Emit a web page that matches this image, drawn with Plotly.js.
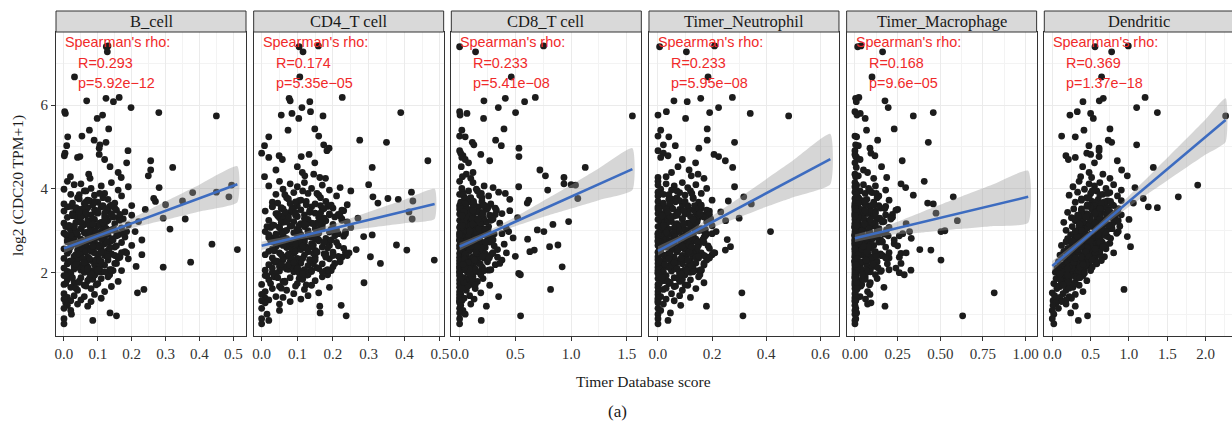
<!DOCTYPE html>
<html><head><meta charset="utf-8">
<script src="https://cdn.plot.ly/plotly-3.0.1.min.js"></script>
<style>html,body{margin:0;padding:0;overflow:hidden;background:#fff}</style>
</head><body><div id="chart" style="width:1235px;height:425px"></div>
<script>
const panels = ['B_cell','CD4_T cell','CD8_T cell','Timer_Neutrophil','Timer_Macrophage','Dendritic'];
const rhoText = ['R=0.293','R=0.174','R=0.233','R=0.233','R=0.168','R=0.369'];
const pText = ['p=5.92e\u221212','p=5.35e\u221205','p=5.41e\u221208','p=5.95e\u221208','p=9.6e\u221205','p=1.37e\u221218'];

// log2(CDC20 TPM+1), one value per sample (shared by all panels)
const cdc20 = [
 7.41, 7.39, 7.27, 6.67,
 6.18, 6.16, 6.10, 6.08, 5.94, 5.84, 5.82, 5.80, 5.76, 5.74, 5.68,
 5.43, 5.40, 5.26, 5.24, 5.16, 5.11, 5.05, 5.03, 4.97,
 4.91, 4.85, 4.82, 4.79, 4.77, 4.75, 4.70, 4.67, 4.62, 4.53, 4.51, 4.45, 4.39, 4.35, 4.31, 4.27, 4.29, 4.25,
 4.18, 4.15, 4.12, 4.10, 4.09, 4.07, 4.05, 4.03, 4.01, 3.99,
 3.97, 3.95, 3.92, 3.91, 3.89, 3.87, 3.85, 3.83, 3.81, 3.79,
 3.77, 3.75, 3.73, 3.71, 3.70, 3.68, 3.66, 3.64, 3.62, 3.60,
 3.58, 3.57, 3.55, 3.54, 3.52, 3.51, 3.50, 3.48, 3.47, 3.45,
 3.44, 3.42, 3.41, 3.40, 3.38, 3.37, 3.35, 3.34, 3.32, 3.31,
 3.30, 3.28, 3.27, 3.25, 3.24, 3.22, 3.21, 3.20, 3.18, 3.17,
 3.15, 3.14, 3.12, 3.11, 3.10, 3.08, 3.07, 3.05, 3.04, 3.02,
 3.01, 3.00, 2.98, 2.97, 2.95, 2.94, 2.92, 2.91, 2.90, 2.88,
 2.87, 2.86, 2.85, 2.84, 2.83, 2.82, 2.81, 2.80, 2.79, 2.78,
 2.77, 2.76, 2.74, 2.73, 2.72, 2.70, 2.69, 2.68, 2.66, 2.65,
 2.64, 2.62, 2.61, 2.60, 2.58, 2.57, 2.55, 2.54, 2.53, 2.51,
 2.50, 2.49, 2.47, 2.46, 2.45, 2.43, 2.42, 2.41, 2.39, 2.38,
 2.37, 2.35, 2.34, 2.33, 2.31, 2.30, 2.29, 2.27, 2.26, 2.25,
 2.23, 2.22, 2.21, 2.19, 2.18, 2.17, 2.15, 2.14, 2.13, 2.11,
 2.10, 2.09, 2.07, 2.06, 2.05, 2.04, 2.03, 2.02, 2.01, 2.00,
 1.98, 1.95, 1.93, 1.90, 1.88, 1.86, 1.83, 1.81, 1.79, 1.76,
 1.74, 1.72, 1.70, 1.67, 1.65, 1.62, 1.60, 1.58, 1.55, 1.52,
 1.50, 1.48, 1.45, 1.43, 1.41, 1.39, 1.37, 1.35, 1.33, 1.31,
 1.28, 1.25, 1.22, 1.20, 1.15, 1.10, 1.04, 1.01, 0.97, 0.90, 0.86, 0.78,
 3.86, 3.62, 3.41, 3.18, 2.96, 2.74, 2.52, 2.31, 2.08, 1.86,
 3.79, 3.55, 3.33, 3.12, 2.89, 2.67, 2.45, 2.24, 2.02, 1.80,
 3.72, 3.49, 3.27, 3.05, 2.83, 2.61, 2.39, 2.17, 1.95, 1.74,
 3.66, 3.44, 3.22, 2.99, 2.78, 2.56, 2.34, 2.12, 1.90, 1.68,
 3.58, 3.37, 3.15, 2.93, 2.71, 2.49, 2.27, 2.05, 1.84, 1.63,
 3.52, 3.30, 3.08, 2.86, 2.64, 2.43, 2.21, 1.99, 1.77, 3.95,
 3.46, 3.24, 3.02, 2.80, 2.58, 2.37, 2.15, 1.93, 1.71, 3.89,
 3.39, 3.17, 2.95, 2.73, 2.51, 2.29, 2.07, 1.88, 3.76, 3.60,
 3.35, 3.13, 2.91, 2.69, 2.47, 2.26, 2.04, 3.69, 3.53, 3.28,
 3.10, 2.88, 2.66, 2.44, 2.22, 2.00, 3.43, 3.20, 2.98, 2.76,
 3.65, 3.38, 3.09, 2.81, 2.55, 2.28, 2.02, 3.48, 3.21, 2.93,
 2.65, 2.37, 2.11, 3.57, 3.29, 3.01, 2.72, 2.46, 2.19, 1.94,
 3.42, 3.13, 2.86, 2.59, 2.33, 2.06, 3.53, 3.25, 2.97, 2.69,
 2.41, 2.15, 1.97, 3.33, 3.05, 2.77, 2.50, 2.24, 3.61, 3.16,
 2.89, 2.62, 2.35, 2.09, 3.45, 3.19, 2.91, 2.63, 2.39, 2.13,
 3.70, 3.36, 3.03, 2.75, 2.48, 2.20, 3.27, 2.99, 2.57, 2.30
];

const bCell = [
 0.130, 0.125, 0.128, 0.031,
 0.163, 0.124, 0.067, 0.146, 0.198, 0.002, 0.280, 0.004, 0.114, 0.450, 0.098,
 0.132, 0.075, 0.053, 0.011, 0.089, 0.124, 0.106, 0.008, 0.104,
 0.189, 0.003, 0.104, 0.001, 0.047, 0.040, 0.120, 0.256, 0.185, 0.136, 0.321, 0.256, 0.160, 0.073, 0.249, 0.169, 0.019, 0.077,
 0.010, 0.140, 0.050, 0.030, 0.495, 0.110, 0.190, 0.281, 0.080, 0.000,
 0.160, 0.060, 0.450, 0.380, 0.120, 0.020, 0.090, 0.170, 0.487, 0.040,
 0.265, 0.130, 0.070, 0.350, 0.270, 0.100, 0.150, 0.000, 0.300, 0.200,
 0.020, 0.110, 0.070, 0.150, 0.040, 0.240, 0.090, 0.130, 0.000, 0.180,
 0.060, 0.100, 0.030, 0.140, 0.080, 0.200, 0.120, 0.050, 0.010, 0.160,
 0.293, 0.358, 0.090, 0.130, 0.070, 0.220, 0.040, 0.110, 0.000, 0.150,
 0.060, 0.190, 0.100, 0.030, 0.120, 0.080, 0.170, 0.050, 0.313, 0.140,
 0.020, 0.090, 0.210, 0.110, 0.060, 0.000, 0.130, 0.040, 0.160, 0.080,
 0.100, 0.010, 0.180, 0.070, 0.120, 0.030, 0.140, 0.050, 0.090, 0.230,
 0.050, 0.140, 0.010, 0.090, 0.170, 0.030, 0.120, 0.437, 0.060, 0.200,
 0.100, 0.020, 0.150, 0.070, 0.110, 0.000, 0.512, 0.040, 0.130, 0.080,
 0.180, 0.060, 0.090, 0.010, 0.140, 0.230, 0.050, 0.120, 0.030, 0.160,
 0.070, 0.100, 0.000, 0.190, 0.040, 0.130, 0.080, 0.020, 0.110, 0.374,
 0.060, 0.150, 0.010, 0.090, 0.120, 0.040, 0.213, 0.070, 0.293, 0.000,
 0.100, 0.030, 0.140, 0.050, 0.170, 0.080, 0.010, 0.110, 0.060, 0.020,
 0.020, 0.090, 0.000, 0.130, 0.050, 0.110, 0.010, 0.070, 0.160, 0.030,
 0.100, 0.000, 0.060, 0.140, 0.020, 0.080, 0.236, 0.040, 0.120, 0.217,
 0.000, 0.090, 0.030, 0.060, 0.010, 0.110, 0.000, 0.050, 0.020, 0.080,
 0.005, 0.040, 0.010, 0.070, 0.000, 0.020, 0.136, 0.022, 0.155, 0.000, 0.085, 0.000,
 0.045, 0.085, 0.025, 0.105, 0.065, 0.135, 0.015, 0.095, 0.055, 0.075,
 0.115, 0.035, 0.145, 0.055, 0.095, 0.025, 0.125, 0.065, 0.105, 0.045,
 0.075, 0.155, 0.045, 0.115, 0.015, 0.085, 0.165, 0.035, 0.135, 0.005,
 0.025, 0.095, 0.125, 0.035, 0.145, 0.055, 0.075, 0.105, 0.015, 0.065,
 0.135, 0.065, 0.085, 0.175, 0.045, 0.115, 0.025, 0.145, 0.085, 0.035,
 0.055, 0.125, 0.015, 0.095, 0.155, 0.035, 0.105, 0.075, 0.045, 0.065,
 0.095, 0.045, 0.145, 0.025, 0.085, 0.165, 0.055, 0.005, 0.095, 0.105,
 0.165, 0.105, 0.035, 0.125, 0.065, 0.095, 0.135, 0.025, 0.045, 0.115,
 0.035, 0.075, 0.115, 0.055, 0.185, 0.015, 0.085, 0.065, 0.125, 0.175,
 0.005, 0.155, 0.105, 0.045, 0.155, 0.095, 0.065, 0.035, 0.185, 0.075,
 0.060, 0.140, 0.030, 0.110, 0.080, 0.020, 0.120, 0.100, 0.050, 0.160,
 0.040, 0.130, 0.070, 0.010, 0.085, 0.150, 0.025, 0.105, 0.045, 0.090,
 0.120, 0.015, 0.075, 0.135, 0.055, 0.100, 0.035, 0.165, 0.095, 0.065,
 0.150, 0.030, 0.080, 0.050, 0.125, 0.010, 0.110, 0.060, 0.140, 0.085,
 0.020, 0.100, 0.160, 0.070, 0.045, 0.115, 0.005, 0.085, 0.130, 0.040,
 0.090, 0.025, 0.145, 0.055, 0.170, 0.035, 0.120, 0.075, 0.015, 0.105
];

const cd4T = [
 0.159, 0.105, 0.116, 0.107,
 0.226, 0.077, 0.080, 0.135, 0.113, 0.137, 0.390, 0.085, 0.055, 0.172, 0.104,
 0.149, 0.074, 0.160, 0.020, 0.275, 0.350, 0.174, 0.008, 0.189,
 0.183, 0.000, 0.133, 0.049, 0.111, 0.020, 0.058, 0.466, 0.149, 0.100, 0.310, 0.040, 0.114, 0.146, 0.121, 0.163, 0.008, 0.179,
 0.050, 0.120, 0.080, 0.300, 0.170, 0.020, 0.100, 0.220, 0.140, 0.060,
 0.190, 0.250, 0.420, 0.090, 0.130, 0.040, 0.160, 0.210, 0.312, 0.070,
 0.354, 0.383, 0.110, 0.424, 0.180, 0.030, 0.326, 0.150, 0.240, 0.100,
 0.030, 0.140, 0.090, 0.200, 0.060, 0.170, 0.110, 0.230, 0.010, 0.413,
 0.080, 0.150, 0.040, 0.190, 0.120, 0.070, 0.220, 0.100, 0.160, 0.050,
 0.270, 0.422, 0.130, 0.020, 0.180, 0.090, 0.240, 0.060, 0.140, 0.110,
 0.200, 0.030, 0.170, 0.080, 0.120, 0.250, 0.050, 0.150, 0.100, 0.210,
 0.070, 0.130, 0.010, 0.190, 0.090, 0.160, 0.040, 0.110, 0.310, 0.060,
 0.230, 0.286, 0.140, 0.020, 0.100, 0.180, 0.070, 0.120, 0.050, 0.160,
 0.090, 0.160, 0.030, 0.120, 0.210, 0.060, 0.140, 0.080, 0.378, 0.190,
 0.110, 0.040, 0.170, 0.070, 0.230, 0.100, 0.265, 0.407, 0.150, 0.020,
 0.130, 0.200, 0.050, 0.090, 0.180, 0.010, 0.120, 0.240, 0.070, 0.305,
 0.150, 0.030, 0.100, 0.190, 0.060, 0.484, 0.140, 0.080, 0.220, 0.040,
 0.110, 0.333, 0.170, 0.020, 0.090, 0.130, 0.060, 0.200, 0.100, 0.030,
 0.160, 0.070, 0.120, 0.010, 0.180, 0.050, 0.140, 0.090, 0.030, 0.110,
 0.040, 0.130, 0.010, 0.170, 0.080, 0.110, 0.020, 0.150, 0.060, 0.287,
 0.100, 0.000, 0.140, 0.050, 0.190, 0.030, 0.120, 0.070, 0.010, 0.160,
 0.090, 0.000, 0.130, 0.040, 0.060, 0.010, 0.110, 0.020, 0.000, 0.080,
 0.010, 0.050, 0.223, 0.163, 0.000, 0.050, 0.164, 0.015, 0.237, 0.000, 0.020, 0.000,
 0.065, 0.125, 0.045, 0.155, 0.095, 0.185, 0.035, 0.135, 0.075, 0.105,
 0.165, 0.055, 0.205, 0.085, 0.145, 0.045, 0.175, 0.095, 0.135, 0.065,
 0.105, 0.225, 0.075, 0.165, 0.035, 0.125, 0.215, 0.055, 0.185, 0.025,
 0.045, 0.135, 0.175, 0.065, 0.195, 0.085, 0.115, 0.155, 0.035, 0.095,
 0.185, 0.095, 0.125, 0.235, 0.065, 0.155, 0.045, 0.195, 0.115, 0.055,
 0.085, 0.175, 0.025, 0.135, 0.215, 0.055, 0.145, 0.105, 0.065, 0.115,
 0.135, 0.065, 0.195, 0.045, 0.125, 0.225, 0.085, 0.015, 0.125, 0.155,
 0.215, 0.145, 0.055, 0.175, 0.095, 0.135, 0.185, 0.045, 0.075, 0.165,
 0.055, 0.105, 0.155, 0.085, 0.245, 0.035, 0.115, 0.095, 0.175, 0.225,
 0.015, 0.205, 0.145, 0.075, 0.205, 0.125, 0.095, 0.055, 0.235, 0.105,
 0.080, 0.190, 0.050, 0.150, 0.110, 0.040, 0.170, 0.135, 0.070, 0.215,
 0.060, 0.180, 0.100, 0.030, 0.120, 0.205, 0.045, 0.145, 0.075, 0.125,
 0.165, 0.035, 0.105, 0.185, 0.085, 0.140, 0.055, 0.225, 0.130, 0.095,
 0.200, 0.050, 0.115, 0.075, 0.170, 0.025, 0.155, 0.090, 0.195, 0.120,
 0.040, 0.140, 0.220, 0.100, 0.065, 0.160, 0.020, 0.115, 0.180, 0.060,
 0.125, 0.045, 0.195, 0.080, 0.235, 0.055, 0.165, 0.105, 0.030, 0.150
];

const cd8T = [
 0.753, 0.000, 0.143, 0.463,
 0.679, 0.410, 0.218, 0.583, 0.347, 0.000, 0.502, 0.066, 0.004, 1.550, 0.215,
 0.398, 0.020, 0.000, 0.050, 0.323, 0.114, 0.128, 0.374, 0.532,
 0.000, 0.010, 0.190, 0.030, 0.532, 0.020, 0.050, 0.270, 0.080, 0.015, 1.127, 0.720, 0.120, 0.060, 0.770, 0.936, 0.025, 0.100,
 0.000, 0.120, 0.936, 1.000, 1.040, 0.220, 0.530, 0.300, 0.020, 0.150,
 0.790, 0.080, 0.350, 0.030, 0.410, 0.000, 0.180, 0.260, 0.040, 0.100,
 1.060, 0.450, 0.620, 0.060, 0.200, 0.010, 0.607, 0.280, 0.130, 0.000,
 0.010, 0.170, 0.060, 0.320, 0.000, 0.240, 0.100, 0.450, 0.030, 0.140,
 0.200, 0.050, 0.380, 0.000, 0.120, 0.270, 0.080, 0.020, 0.190, 0.520,
 0.040, 0.150, 0.290, 0.000, 0.090, 0.978, 0.220, 0.060, 0.360, 0.110,
 0.837, 0.010, 0.180, 0.070, 0.260, 0.000, 0.130, 0.420, 0.050, 0.697,
 0.160, 0.030, 0.756, 0.230, 0.000, 0.100, 0.310, 0.070, 0.200, 0.020,
 0.140, 0.000, 0.250, 0.060, 0.480, 0.110, 0.040, 0.610, 0.180, 0.000,
 0.000, 0.130, 0.050, 0.270, 0.020, 0.190, 0.090, 0.400, 0.882, 0.000,
 0.160, 0.807, 0.040, 0.230, 0.000, 0.110, 0.340, 0.670, 0.070, 0.210,
 0.630, 0.010, 0.150, 0.000, 0.290, 0.060, 0.180, 0.030, 0.500, 0.120,
 0.000, 0.220, 0.080, 0.140, 0.020, 0.380, 0.000, 0.100, 0.250, 0.050,
 0.170, 0.000, 0.090, 0.320, 0.030, 0.120, 0.000, 0.920, 0.200, 0.060,
 0.000, 0.140, 0.040, 0.260, 0.010, 0.100, 0.000, 0.180, 0.070, 0.000,
 0.530, 0.545, 0.000, 0.120, 0.040, 0.210, 0.000, 0.080, 0.160, 0.020,
 0.000, 0.100, 0.270, 0.030, 0.000, 0.140, 0.816, 0.060, 0.000, 0.190,
 0.010, 0.000, 0.090, 0.350, 0.000, 0.040, 0.130, 0.000, 0.020, 0.000,
 0.000, 0.100, 0.010, 0.240, 0.000, 0.030, 0.000, 0.050, 0.547, 0.000, 0.194, 0.000,
 0.030, 0.120, 0.010, 0.180, 0.070, 0.250, 0.020, 0.150, 0.050, 0.090,
 0.200, 0.040, 0.290, 0.080, 0.160, 0.015, 0.230, 0.100, 0.130, 0.005,
 0.110, 0.330, 0.060, 0.210, 0.025, 0.140, 0.270, 0.045, 0.190, 0.010,
 0.015, 0.170, 0.240, 0.035, 0.300, 0.095, 0.125, 0.205, 0.005, 0.075,
 0.260, 0.085, 0.145, 0.380, 0.040, 0.175, 0.030, 0.220, 0.115, 0.020,
 0.065, 0.215, 0.010, 0.135, 0.310, 0.050, 0.185, 0.105, 0.035, 0.160,
 0.155, 0.045, 0.255, 0.020, 0.120, 0.340, 0.070, 0.005, 0.140, 0.195,
 0.320, 0.190, 0.030, 0.230, 0.085, 0.150, 0.280, 0.015, 0.055, 0.210,
 0.040, 0.100, 0.200, 0.060, 0.420, 0.010, 0.135, 0.080, 0.250, 0.300,
 0.005, 0.280, 0.175, 0.050, 0.360, 0.125, 0.090, 0.025, 0.440, 0.110,
 0.050, 0.200, 0.020, 0.140, 0.090, 0.010, 0.170, 0.120, 0.040, 0.250,
 0.030, 0.180, 0.070, 0.005, 0.110, 0.230, 0.015, 0.160, 0.060, 0.100,
 0.210, 0.025, 0.080, 0.190, 0.045, 0.130, 0.010, 0.280, 0.150, 0.065,
 0.240, 0.035, 0.095, 0.055, 0.175, 0.005, 0.145, 0.075, 0.220, 0.115,
 0.015, 0.155, 0.265, 0.085, 0.040, 0.185, 0.000, 0.105, 0.205, 0.045,
 0.125, 0.020, 0.230, 0.060, 0.300, 0.030, 0.165, 0.090, 0.010, 0.135
];

const neutrophil = [
 0.209, 0.006, 0.105, 0.185,
 0.275, 0.158, 0.059, 0.108, 0.224, 0.031, 0.191, 0.341, 0.000, 0.483, 0.102,
 0.182, 0.010, 0.000, 0.040, 0.182, 0.283, 0.020, 0.064, 0.151,
 0.000, 0.020, 0.207, 0.037, 0.224, 0.010, 0.090, 0.249, 0.139, 0.074, 0.276, 0.115, 0.050, 0.148, 0.123, 0.000, 0.030, 0.170,
 0.000, 0.090, 0.030, 0.140, 0.000, 0.060, 0.283, 0.110, 0.180, 0.010,
 0.050, 0.120, 0.000, 0.080, 0.160, 0.020, 0.100, 0.000, 0.317, 0.070,
 0.130, 0.040, 0.200, 0.260, 0.000, 0.150, 0.090, 0.345, 0.020, 0.110,
 0.010, 0.110, 0.050, 0.160, 0.000, 0.080, 0.130, 0.030, 0.190, 0.232,
 0.070, 0.140, 0.000, 0.100, 0.040, 0.170, 0.060, 0.120, 0.020, 0.150,
 0.300, 0.090, 0.000, 0.130, 0.250, 0.050, 0.180, 0.010, 0.110, 0.070,
 0.140, 0.030, 0.200, 0.080, 0.000, 0.120, 0.060, 0.160, 0.040, 0.100,
 0.020, 0.150, 0.416, 0.070, 0.110, 0.000, 0.180, 0.050, 0.130, 0.090,
 0.030, 0.120, 0.000, 0.170, 0.060, 0.100, 0.010, 0.140, 0.256, 0.080,
 0.040, 0.130, 0.000, 0.090, 0.170, 0.020, 0.110, 0.060, 0.150, 0.000,
 0.080, 0.268, 0.030, 0.120, 0.190, 0.050, 0.100, 0.249, 0.010, 0.140,
 0.070, 0.000, 0.160, 0.040, 0.110, 0.200, 0.020, 0.090, 0.130, 0.000,
 0.060, 0.150, 0.030, 0.100, 0.000, 0.180, 0.080, 0.120, 0.010, 0.050,
 0.140, 0.000, 0.090, 0.060, 0.170, 0.020, 0.110, 0.040, 0.000, 0.130,
 0.070, 0.010, 0.100, 0.000, 0.150, 0.050, 0.080, 0.020, 0.120, 0.000,
 0.000, 0.100, 0.030, 0.150, 0.060, 0.000, 0.120, 0.020, 0.080, 0.170,
 0.040, 0.000, 0.110, 0.060, 0.000, 0.140, 0.020, 0.090, 0.000, 0.310,
 0.050, 0.000, 0.080, 0.010, 0.120, 0.000, 0.030, 0.000, 0.060, 0.000,
 0.000, 0.020, 0.084, 0.179, 0.000, 0.010, 0.046, 0.000, 0.314, 0.000, 0.037, 0.000,
 0.040, 0.090, 0.015, 0.120, 0.060, 0.150, 0.010, 0.100, 0.050, 0.075,
 0.130, 0.030, 0.170, 0.065, 0.110, 0.020, 0.140, 0.070, 0.115, 0.035,
 0.080, 0.180, 0.045, 0.135, 0.010, 0.095, 0.175, 0.030, 0.155, 0.005,
 0.020, 0.105, 0.145, 0.030, 0.165, 0.055, 0.085, 0.125, 0.010, 0.065,
 0.155, 0.070, 0.095, 0.200, 0.040, 0.130, 0.020, 0.160, 0.090, 0.030,
 0.055, 0.140, 0.010, 0.105, 0.185, 0.035, 0.120, 0.080, 0.045, 0.070,
 0.110, 0.045, 0.165, 0.020, 0.095, 0.190, 0.060, 0.005, 0.100, 0.125,
 0.190, 0.120, 0.030, 0.145, 0.070, 0.110, 0.160, 0.015, 0.050, 0.135,
 0.030, 0.080, 0.130, 0.055, 0.210, 0.010, 0.095, 0.065, 0.150, 0.195,
 0.005, 0.175, 0.115, 0.045, 0.170, 0.100, 0.075, 0.025, 0.215, 0.085,
 0.045, 0.150, 0.015, 0.115, 0.075, 0.005, 0.130, 0.095, 0.035, 0.175,
 0.025, 0.140, 0.060, 0.000, 0.090, 0.165, 0.010, 0.120, 0.050, 0.080,
 0.155, 0.020, 0.065, 0.145, 0.040, 0.105, 0.005, 0.185, 0.110, 0.055,
 0.170, 0.030, 0.085, 0.045, 0.135, 0.000, 0.115, 0.060, 0.160, 0.095,
 0.010, 0.125, 0.190, 0.070, 0.035, 0.140, 0.000, 0.090, 0.150, 0.040,
 0.100, 0.015, 0.175, 0.050, 0.205, 0.025, 0.130, 0.080, 0.005, 0.110
];

const macrophage = [
 0.035, 0.016, 0.162, 0.100,
 0.023, 0.004, 0.176, 0.008, 0.195, 0.000, 0.459, 0.031, 0.012, 0.342, 0.060,
 0.230, 0.068, 0.000, 0.010, 0.133, 0.430, 0.004, 0.020, 0.088,
 0.000, 0.094, 0.000, 0.117, 0.004, 0.010, 0.030, 0.277, 0.000, 0.156, 0.008, 0.050, 0.074, 0.000, 0.020, 0.186, 0.004, 0.110,
 0.406, 0.000, 0.270, 0.050, 0.010, 0.120, 0.000, 0.297, 0.080, 0.005,
 0.180, 0.030, 0.000, 0.100, 0.060, 0.010, 0.342, 0.140, 0.576, 0.020,
 0.000, 0.070, 0.200, 0.005, 0.040, 0.110, 0.426, 0.459, 0.000, 0.090,
 0.000, 0.090, 0.020, 0.150, 0.005, 0.250, 0.050, 0.000, 0.120, 0.030,
 0.010, 0.475, 0.070, 0.000, 0.180, 0.010, 0.100, 0.000, 0.220, 0.040,
 0.005, 0.130, 0.000, 0.060, 0.600, 0.010, 0.160, 0.020, 0.000, 0.300,
 0.080, 0.000, 0.110, 0.030, 0.005, 0.200, 0.000, 0.050, 0.140, 0.010,
 0.010, 0.527, 0.504, 0.000, 0.090, 0.005, 0.170, 0.040, 0.000, 0.260,
 0.000, 0.060, 0.120, 0.010, 0.020, 0.330, 0.000, 0.100, 0.005, 0.150,
 0.000, 0.070, 0.010, 0.140, 0.020, 0.000, 0.230, 0.050, 0.005, 0.110,
 0.000, 0.030, 0.180, 0.010, 0.090, 0.000, 0.380, 0.445, 0.010, 0.000,
 0.120, 0.005, 0.060, 0.270, 0.000, 0.040, 0.010, 0.160, 0.000, 0.080,
 0.000, 0.200, 0.010, 0.005, 0.100, 0.504, 0.000, 0.050, 0.130, 0.010,
 0.030, 0.000, 0.190, 0.005, 0.070, 0.000, 0.110, 0.010, 0.020, 0.240,
 0.000, 0.090, 0.005, 0.328, 0.040, 0.000, 0.150, 0.010, 0.010, 0.260,
 0.000, 0.289, 0.005, 0.060, 0.000, 0.130, 0.010, 0.020, 0.000, 0.090,
 0.005, 0.040, 0.000, 0.010, 0.170, 0.000, 0.010, 0.005, 0.074, 0.816,
 0.000, 0.088, 0.005, 0.030, 0.000, 0.010, 0.062, 0.000, 0.005, 0.000,
 0.094, 0.074, 0.000, 0.176, 0.005, 0.000, 0.010, 0.000, 0.631, 0.005, 0.000, 0.000,
 0.010, 0.060, 0.000, 0.110, 0.030, 0.160, 0.005, 0.085, 0.020, 0.045,
 0.130, 0.015, 0.210, 0.050, 0.095, 0.000, 0.150, 0.040, 0.070, 0.010,
 0.050, 0.240, 0.020, 0.140, 0.005, 0.080, 0.190, 0.025, 0.120, 0.000,
 0.000, 0.100, 0.170, 0.015, 0.230, 0.045, 0.065, 0.135, 0.005, 0.035,
 0.180, 0.040, 0.075, 0.280, 0.010, 0.115, 0.000, 0.155, 0.060, 0.015,
 0.025, 0.145, 0.000, 0.080, 0.250, 0.020, 0.105, 0.055, 0.010, 0.090,
 0.090, 0.015, 0.185, 0.005, 0.065, 0.260, 0.030, 0.000, 0.085, 0.125,
 0.220, 0.120, 0.010, 0.160, 0.040, 0.075, 0.200, 0.000, 0.025, 0.140,
 0.015, 0.050, 0.125, 0.030, 0.300, 0.000, 0.070, 0.035, 0.175, 0.210,
 0.000, 0.195, 0.090, 0.020, 0.270, 0.065, 0.045, 0.010, 0.320, 0.055,
 0.020, 0.110, 0.000, 0.070, 0.040, 0.000, 0.090, 0.060, 0.010, 0.140,
 0.005, 0.100, 0.030, 0.000, 0.050, 0.130, 0.000, 0.075, 0.020, 0.045,
 0.120, 0.010, 0.035, 0.095, 0.015, 0.065, 0.000, 0.160, 0.080, 0.025,
 0.150, 0.005, 0.045, 0.020, 0.085, 0.000, 0.070, 0.030, 0.110, 0.055,
 0.000, 0.080, 0.180, 0.035, 0.010, 0.100, 0.000, 0.050, 0.125, 0.015,
 0.060, 0.000, 0.140, 0.025, 0.200, 0.005, 0.090, 0.040, 0.000, 0.065
];

const dendritic = [
 0.991, 0.557, 0.774, 0.643,
 1.210, 0.665, 0.613, 0.400, 1.100, 0.326, 1.370, 0.500, 0.230, 2.260, 0.535,
 0.752, 0.413, 0.122, 0.300, 0.730, 0.774, 1.100, 0.478, 0.610,
 0.610, 0.450, 0.500, 0.178, 0.610, 0.300, 0.210, 0.848, 0.550, 0.396, 1.317, 0.904, 0.480, 0.660, 0.978, 0.513, 0.370, 0.752,
 0.350, 0.620, 0.480, 0.800, 1.896, 0.550, 0.270, 1.078, 0.700, 0.420,
 0.900, 0.580, 0.330, 0.750, 0.500, 0.660, 0.220, 0.850, 1.643, 0.450,
 1.187, 0.600, 0.380, 0.720, 0.520, 0.300, 1.057, 0.640, 0.460, 0.800,
 0.450, 1.252, 1.370, 0.600, 0.280, 0.730, 0.520, 0.380, 0.850, 0.640,
 0.200, 0.560, 0.700, 0.420, 0.900, 0.330, 0.620, 0.480, 0.760, 0.250,
 0.580, 0.400, 1.000, 0.680, 0.300, 0.820, 0.500, 0.150, 0.600, 0.440,
 0.720, 0.350, 0.550, 0.880, 0.260, 0.640, 0.460, 0.780, 0.380, 0.560,
 0.180, 0.700, 0.420, 0.600, 0.320, 0.840, 0.500, 0.240, 0.660, 0.400,
 0.540, 0.978, 0.300, 0.620, 0.460, 0.760, 0.200, 0.580, 0.360, 0.500,
 0.300, 0.520, 0.180, 0.650, 0.400, 0.750, 0.250, 0.560, 0.450, 0.120,
 0.620, 1.020, 0.350, 0.480, 0.200, 0.700, 0.420, 0.280, 0.580, 0.150,
 0.500, 0.330, 0.800, 0.220, 0.600, 0.400, 0.100, 0.540, 0.300, 0.680,
 0.250, 0.460, 0.150, 0.560, 0.380, 0.200, 0.640, 0.320, 0.080, 0.480,
 0.400, 0.180, 0.580, 0.280, 0.120, 0.460, 0.340, 0.220, 0.520, 0.060,
 0.300, 0.420, 0.160, 0.260, 0.500, 0.100, 0.360, 0.200, 0.040, 0.320,
 0.080, 0.250, 0.400, 0.150, 0.320, 0.050, 0.220, 0.450, 0.120, 0.300,
 0.020, 0.200, 0.350, 0.100, 0.270, 0.060, 0.935, 0.180, 0.400, 0.000,
 0.140, 0.300, 0.030, 0.220, 0.100, 0.250, 0.050, 0.180, 0.010, 0.120,
 0.050, 0.180, 0.010, 0.300, 0.080, 0.000, 0.240, 0.020, 0.460, 0.000, 0.340, 0.020,
 0.620, 0.780, 0.450, 0.560, 0.380, 0.600, 0.300, 0.420, 0.250, 0.180,
 0.480, 0.660, 0.820, 0.400, 0.680, 0.280, 0.500, 0.200, 0.380, 0.120,
 0.900, 0.540, 0.360, 0.740, 0.480, 0.440, 0.240, 0.340, 0.150, 0.280,
 0.560, 0.760, 0.620, 0.420, 0.300, 0.580, 0.380, 0.160, 0.300, 0.060,
 0.700, 0.400, 0.780, 0.560, 0.640, 0.340, 0.560, 0.300, 0.100, 0.220,
 0.380, 0.620, 0.460, 0.720, 0.380, 0.620, 0.260, 0.420, 0.200, 0.520,
 0.580, 0.860, 0.340, 0.520, 0.240, 0.460, 0.400, 0.240, 0.140, 0.720,
 0.720, 0.480, 0.620, 0.380, 0.620, 0.320, 0.180, 0.360, 0.380, 0.540,
 0.500, 0.660, 0.280, 0.520, 0.420, 0.480, 0.240, 0.680, 0.860, 0.300,
 0.580, 0.420, 0.700, 0.200, 0.360, 0.160, 0.600, 0.400, 0.860, 0.280,
 0.640, 0.460, 0.540, 0.440, 0.340, 0.280, 0.140, 0.740, 0.400, 0.600,
 0.500, 0.380, 0.260, 0.500, 0.700, 0.380, 0.620, 0.240, 0.440, 0.200,
 0.560, 0.740, 0.320, 0.460, 0.240, 0.340, 0.620, 0.500, 0.700, 0.360,
 0.540, 0.220, 0.100, 0.440, 0.640, 0.500, 0.440, 0.280, 0.460, 0.360,
 0.520, 0.660, 0.300, 0.200, 0.840, 0.560, 0.440, 0.380, 0.480, 0.360,
 0.760, 0.340, 0.560, 0.260, 0.560, 0.400, 0.800, 0.300, 0.560, 0.520
];

const scores = [bCell, cd4T, cd8T, neutrophil, macrophage, dendritic];

// fitted linear trend (end points) and its confidence band
const fitX = [[0, 0.512], [0, 0.485], [0, 1.55], [0, 0.637], [0, 1.015], [0, 2.26]];
const fitY = [[2.58, 4.11], [2.64, 3.64], [2.62, 4.47], [2.52, 4.71], [2.82, 3.81], [2.16, 5.64]];
const bandX = [
 [0, 0.1, 0.2, 0.3, 0.4, 0.512],
 [0, 0.1, 0.2, 0.3, 0.4, 0.485],
 [0, 0.25, 0.5, 0.75, 1.0, 1.25, 1.55],
 [0, 0.1, 0.2, 0.3, 0.4, 0.5, 0.637],
 [0, 0.2, 0.4, 0.6, 0.8, 1.015],
 [0, 0.5, 1.0, 1.5, 2.0, 2.26]
];
const bandLo = [
 [2.47, 2.81, 3.06, 3.26, 3.46, 3.68],
 [2.54, 2.78, 2.94, 3.07, 3.18, 3.28],
 [2.53, 2.85, 3.11, 3.33, 3.53, 3.73, 3.97],
 [2.41, 2.78, 3.07, 3.32, 3.57, 3.80, 4.11],
 [2.73, 2.90, 2.96, 3.04, 3.11, 3.19],
 [2.04, 2.86, 3.57, 4.20, 4.82, 5.12]
];
const bandHi = [
 [2.69, 2.95, 3.30, 3.70, 4.10, 4.54],
 [2.74, 2.92, 3.16, 3.45, 3.74, 4.00],
 [2.71, 2.99, 3.33, 3.71, 4.09, 4.49, 4.97],
 [2.63, 2.94, 3.35, 3.78, 4.23, 4.68, 5.31],
 [2.91, 3.14, 3.46, 3.78, 4.09, 4.43],
 [2.28, 3.00, 3.83, 4.74, 5.66, 6.16]
];

const xRanges = [[-0.0236, 0.5375], [-0.0224, 0.5103], [-0.0744, 1.630], [-0.0333, 0.669], [-0.0486, 1.0645], [-0.104, 2.373]];
const xDtick = [0.1, 0.1, 0.5, 0.2, 0.25, 0.5];
const xFormat = ['.1f', '.1f', '.1f', '.1f', '.2f', '.1f'];

const W = 1235, H = 425;
const boxTop = 32, boxBottom = 336, stripTop = 11;
const yDom = [(H - boxBottom) / H, (H - boxTop) / H];
const serif = 'Liberation Serif, Times New Roman, serif';
const sans = 'Liberation Sans, Arial, sans-serif';

const traces = [];
const layout = {
  width: W, height: H, margin: {l: 0, r: 0, t: 0, b: 0},
  paper_bgcolor: '#fff', plot_bgcolor: '#fff', showlegend: false,
  annotations: [], shapes: []
};

panels.forEach((name, i) => {
  const sfx = i === 0 ? '' : String(i + 1);
  const xa = 'x' + sfx, ya = 'y' + sfx;
  const left = 56 + 197.66 * i;
  layout['xaxis' + sfx] = {
    domain: [left / W, (left + 190) / W], range: xRanges[i], anchor: ya,
    tick0: 0, dtick: xDtick[i], tickformat: xFormat[i],
    ticks: 'outside', ticklen: 4, tickcolor: '#333', tickwidth: 1,
    showline: true, mirror: true, linecolor: '#333', linewidth: 1,
    showgrid: true, gridcolor: '#ebebeb', gridwidth: 1, zeroline: false,
    minor: {dtick: xDtick[i] / 2, showgrid: true, gridcolor: '#f3f3f3', gridwidth: 1},
    tickfont: {family: serif, size: 15, color: '#333'}, fixedrange: true
  };
  layout['yaxis' + sfx] = {
    domain: yDom, range: [0.489, 7.742], anchor: xa,
    tickvals: [2, 4, 6], ticks: i === 0 ? 'outside' : '', ticklen: 4, tickcolor: '#333',
    showticklabels: i === 0, showline: true, mirror: true, linecolor: '#333', linewidth: 1,
    showgrid: true, gridcolor: '#ebebeb', gridwidth: 1, zeroline: false,
    minor: {tickvals: [1, 3, 5, 7], showgrid: true, gridcolor: '#f3f3f3', gridwidth: 1},
    tickfont: {family: serif, size: 15, color: '#333'}, fixedrange: true
  };

  traces.push({
    type: 'scatter', mode: 'markers', x: scores[i], y: cdc20, xaxis: xa, yaxis: ya,
    marker: {color: '#1c1c1c', size: 6.8, line: {width: 0}}, hoverinfo: 'skip'
  });
  const bx = bandX[i].concat(bandX[i].slice().reverse());
  const by = bandHi[i].concat(bandLo[i].slice().reverse());
  traces.push({
    type: 'scatter', mode: 'lines', x: bx, y: by, xaxis: xa, yaxis: ya,
    fill: 'toself', fillcolor: 'rgba(153,153,153,0.4)', line: {width: 0, shape: 'spline', smoothing: 0.5}, hoverinfo: 'skip'
  });
  traces.push({
    type: 'scatter', mode: 'lines', x: fitX[i], y: fitY[i], xaxis: xa, yaxis: ya,
    line: {color: '#3d6cc0', width: 2.6}, hoverinfo: 'skip'
  });

  layout.shapes.push({
    type: 'rect', xref: xa + ' domain', yref: 'paper', x0: 0, x1: 1,
    y0: (H - boxTop) / H, y1: (H - stripTop) / H,
    fillcolor: '#d9d9d9', line: {color: '#333', width: 1}, layer: 'above'
  });
  layout.annotations.push({
    xref: xa + ' domain', yref: 'paper', x: 0.5, y: (H - 21.5) / H,
    xanchor: 'center', yanchor: 'middle', showarrow: false, text: name,
    font: {family: serif, size: 16.5, color: '#1a1a1a'}
  });
  const red = '#f02a2a';
  [['Spearman\'s rho:', 8, 42], [rhoText[i], 21, 62.5], [pText[i], 21, 83]].forEach(([t, dx, yy]) => {
    layout.annotations.push({
      xref: xa + ' domain', yref: 'paper', x: (dx - 1) / 190, y: (H - yy) / H,
      xanchor: 'left', yanchor: 'middle', showarrow: false, text: t,
      font: {family: sans, size: 14.4, color: red}
    });
  });
});

layout.annotations.push({
  xref: 'paper', yref: 'paper', x: 18 / W, y: (H - 186) / H, textangle: -90,
  xanchor: 'center', yanchor: 'middle', showarrow: false, text: 'log2 (CDC20 TPM+1)',
  font: {family: serif, size: 15.5, color: '#1a1a1a'}
});
layout.annotations.push({
  xref: 'paper', yref: 'paper', x: 643 / W, y: (H - 381) / H,
  xanchor: 'center', yanchor: 'middle', showarrow: false, text: 'Timer Database score',
  font: {family: serif, size: 15.5, color: '#1a1a1a'}
});
layout.annotations.push({
  xref: 'paper', yref: 'paper', x: 617 / W, y: (H - 411) / H,
  xanchor: 'center', yanchor: 'middle', showarrow: false, text: '(a)',
  font: {family: serif, size: 17, color: '#1a1a1a'}
});

Plotly.newPlot('chart', traces, layout, {staticPlot: true, displayModeBar: false});
</script>
</body></html>
